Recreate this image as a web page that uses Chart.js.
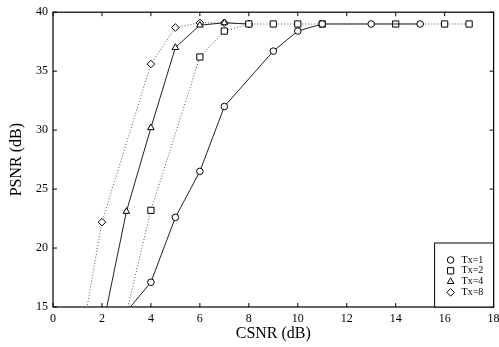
<!DOCTYPE html>
<html><head><meta charset="utf-8">
<script src="https://cdn.jsdelivr.net/npm/chart.js@4/dist/chart.umd.min.js"></script>
<style>html,body{margin:0;padding:0;background:#fff}#wrap{width:499px;height:347px}</style>
</head><body><div id="wrap"><canvas id="c" width="499" height="347"></canvas></div>
<script>
const seriesNames = ['Tx=1','Tx=2','Tx=4','Tx=8'];
const tx1X = [3, 4, 5, 6, 7, 9, 10, 11, 13, 15];
const tx1Y = [14.6, 17.1, 22.6, 26.5, 32.0, 36.7, 38.4, 39.0, 39.0, 39.0];
const tx2X = [3, 4, 6, 7, 8, 9, 10, 11, 14, 16, 17];
const tx2Y = [14.5, 23.2, 36.2, 38.4, 39.0, 39.0, 39.0, 39.0, 39.0, 39.0, 39.0];
const tx4X = [2, 3, 4, 5, 6, 7, 8];
const tx4Y = [13.0, 23.1, 30.2, 37.0, 38.9, 39.1, 39.0];
const tx8X = [1, 2, 4, 5, 6, 7, 8];
const tx8Y = [10.4, 22.2, 35.6, 38.7, 39.1, 39.1, 39.0];
const xTicks = [0,2,4,6,8,10,12,14,16,18];
const yTicks = [15,20,25,30,35,40];

function pts(xs, ys){ return xs.map((x,i)=>({x:x,y:ys[i]})); }
const styles = [
  {ps:'circle', dash:[], col:'#222', r:3.3},
  {ps:'rect', dash:[1,2], col:'#555', r:4.4},
  {ps:'triangle', dash:[], col:'#222', r:3.8},
  {ps:'rectRot', dash:[1,2], col:'#555', r:3.8}
];
const data = [pts(tx1X,tx1Y),pts(tx2X,tx2Y),pts(tx4X,tx4Y),pts(tx8X,tx8Y)];
const datasets = data.map((d,i)=>({
  label: seriesNames[i], data:d, borderColor:styles[i].col, borderWidth:1,
  borderDash:styles[i].dash, pointStyle:styles[i].ps, pointRadius:styles[i].r,
  pointBackgroundColor:'#fff', pointBorderColor:'#000', pointBorderWidth:1,
  tension:0, fill:false
}));

const frame = {
  id:'frame',
  afterDraw(chart){
    const ctx = chart.ctx, a = chart.chartArea;
    const xs = chart.scales.x, ys = chart.scales.y;
    ctx.save();
    ctx.strokeStyle='#000'; ctx.lineWidth=1.2;
    ctx.strokeRect(a.left, a.top, a.right-a.left, a.bottom-a.top);
    ctx.lineWidth=1;
    xTicks.forEach(v=>{const p=xs.getPixelForValue(v);
      ctx.beginPath();ctx.moveTo(p,a.bottom);ctx.lineTo(p,a.bottom-4);
      ctx.moveTo(p,a.top);ctx.lineTo(p,a.top+4);ctx.stroke();});
    yTicks.forEach(v=>{const p=ys.getPixelForValue(v);
      ctx.beginPath();ctx.moveTo(a.left,p);ctx.lineTo(a.left+4,p);
      ctx.moveTo(a.right,p);ctx.lineTo(a.right-4,p);ctx.stroke();});
    // legend
    const w=59,h=64, lx=a.right-w, ly=a.bottom-h;
    ctx.fillStyle='#fff'; ctx.fillRect(lx,ly,w,h);
    ctx.strokeStyle='#000'; ctx.strokeRect(lx,ly,w,h);
    ctx.font='10px "Liberation Serif"'; ctx.textBaseline='middle';
    seriesNames.forEach((n,i)=>{
      const yy = ly+17+i*10.8;
      ctx.fillStyle='#fff'; ctx.strokeStyle='#000'; ctx.lineWidth=1;
      Chart.helpers.drawPoint(ctx,{pointStyle:styles[i].ps,radius:styles[i].r,borderWidth:1,rotation:0},lx+16,yy);
      ctx.fillStyle='#000';
      ctx.fillText(n,lx+27,yy);
    });
    ctx.restore();
  }
};

new Chart(document.getElementById('c'),{
  type:'line',
  data:{datasets:datasets},
  options:{
    responsive:false, animation:false,
    layout:{padding:{top:10,right:3,left:0,bottom:0}},
    plugins:{legend:{display:false},tooltip:{enabled:false}},
    scales:{
      x:{type:'linear',min:0,max:18,
        afterBuildTicks(s){s.ticks=xTicks.map(v=>({value:v}));},
        afterFit(s){s.height=40;s.paddingLeft=0;s.paddingRight=0;},
        grid:{display:false,drawTicks:false}, border:{display:false},
        ticks:{padding:5,font:{family:'Liberation Serif',size:12},color:'#000',maxRotation:0},
        title:{display:true,text:'CSNR (dB)',font:{family:'Liberation Serif',size:16},color:'#000',padding:{top:0}}
      },
      y:{type:'linear',min:15,max:40,
        afterBuildTicks(s){s.ticks=yTicks.map(v=>({value:v}));},
        afterFit(s){s.width=53;},
        grid:{display:false,drawTicks:false}, border:{display:false},
        ticks:{padding:5,font:{family:'Liberation Serif',size:12},color:'#000'},
        title:{display:true,text:'PSNR (dB)',font:{family:'Liberation Serif',size:16},color:'#000',padding:{top:7,bottom:0}}
      }
    }
  },
  plugins:[frame]
});
</script></body></html>
